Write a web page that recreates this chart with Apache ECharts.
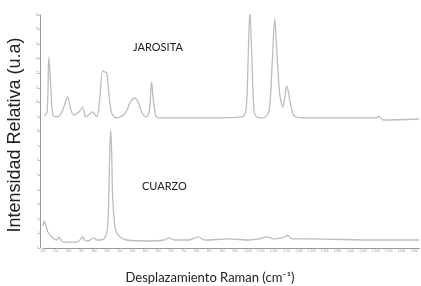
<!DOCTYPE html>
<html>
<head>
<meta charset="utf-8">
<script src="https://cdn.jsdelivr.net/npm/echarts@6/dist/echarts.min.js"></script>
<style>html,body{margin:0;padding:0;background:#fff;}#c{width:421px;height:286px;}</style>
</head>
<body>
<div id="c"></div>
<script>
// Raman shift (cm-1) and relative intensity
var jarositaShift = [204,216,223,231,239,254,274,297,309,320,340,355,367,383,394,410,421,433,441,449,456,468,488,519,542,558,573,589,604,616,624,631,643,666,849,977,993,1001,1008,1016,1024,1035,1059,1082,1094,1105,1113,1125,1137,1144,1152,1164,1175,1187,1238,1498,1510,1529,1669];
var jarositaInt   = [9.07,9.34,13.12,10.85,9.13,9.0,9.34,10.37,9.48,9.13,9.34,9.68,9.0,9.2,9.34,9.0,10.16,12.16,12.09,12.02,10.85,9.27,8.93,9.2,10.03,10.3,9.96,9.2,9.0,9.48,11.4,10.16,9.0,8.93,8.93,9.0,9.48,12.91,16.3,12.91,9.48,9.0,8.93,9.34,12.23,15.73,13.6,10.5,9.68,10.3,11.13,10.16,9.27,9.0,8.93,8.93,9.03,8.79,8.86];
var cuarzoShift   = [200,204,212,219,239,254,262,270,278,332,348,355,363,375,398,410,421,441,453,460,464,468,472,480,488,507,526,616,674,693,713,771,806,830,927,1004,1043,1074,1102,1133,1156,1172,1238,1498,1669];
var cuarzoInt     = [1.51,1.85,1.51,1.1,0.69,0.55,0.76,0.55,0.41,0.41,0.62,0.76,0.55,0.48,0.69,0.55,0.55,0.69,1.58,6.04,8.1,6.73,3.5,1.58,1.03,0.69,0.55,0.48,0.55,0.69,0.55,0.55,0.76,0.55,0.62,0.55,0.62,0.76,0.62,0.69,0.86,0.62,0.62,0.55,0.55];
var xTitle = 'Desplazamiento Raman (cm⁻¹)';
var yTitle = 'Intensidad Relativa (u.a)';
var seriesNames = ['JAROSITA', 'CUARZO'];

function pairs(xs, ys){ return xs.map(function(x,i){ return [x, ys[i]]; }); }

var chart = echarts.init(document.getElementById('c'), null, {renderer:'canvas'});
chart.setOption({
  backgroundColor:'#fff',
  animation:false,
  grid:{left:43, right:0, top:15, bottom:38},
  xAxis:{type:'value', min:200, max:1670, interval:50,
    axisLine:{lineStyle:{color:'#999', width:1}},
    axisTick:{show:true, length:1, lineStyle:{color:'#aaa'}},
    axisLabel:{fontSize:3, color:'#999', margin:2},
    splitLine:{show:false}},
  yAxis:{type:'value', min:0, max:16, interval:1, offset:3,
    axisLine:{show:true, lineStyle:{color:'#999', width:1}},
    axisTick:{show:true, length:1, lineStyle:{color:'#aaa'}},
    axisLabel:{fontSize:3, color:'#999', margin:1},
    splitLine:{show:false}},
  series:[
    {name:seriesNames[0], type:'line', data:pairs(jarositaShift, jarositaInt), symbol:'none', smooth:0.3, clip:true,
     lineStyle:{color:'#bdbdbd', width:1.3}},
    {name:seriesNames[1], type:'line', data:pairs(cuarzoShift, cuarzoInt), symbol:'none', smooth:0.3, clip:true,
     lineStyle:{color:'#bdbdbd', width:1.3}}
  ],
  graphic:[
    {type:'text', left:133, top:42, style:{text:seriesNames[0], font:'11px Lato', fill:'#222'}},
    {type:'text', left:142, top:181, style:{text:seriesNames[1], font:'11px Lato', fill:'#222'}},
    {type:'text', x:210, y:278, style:{text:xTitle, font:'13px Lato', fill:'#222', align:'center', verticalAlign:'middle'}},
    {type:'text', x:15, y:135, rotation:Math.PI/2, style:{text:yTitle, font:'18px "Liberation Sans"', fill:'#222', align:'center', verticalAlign:'middle'}}
  ]
});
</script>
</body>
</html>
